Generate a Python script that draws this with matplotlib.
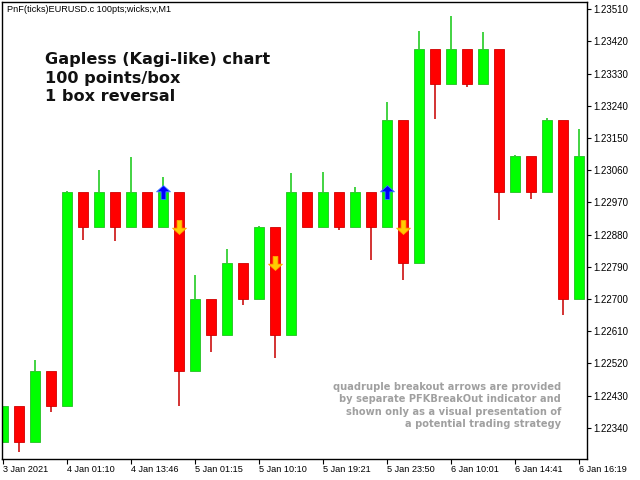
import matplotlib
matplotlib.use("Agg")
import matplotlib.pyplot as plt
import numpy as np
from matplotlib.path import Path

# ==========================================
# DATA
# ==========================================
first_open = 1.2230
closes = [1.2240, 1.2230, 1.2250, 1.2240, 1.2300, 1.2290, 1.2300, 1.2290,
          1.2300, 1.2290, 1.2300, 1.2250, 1.2270, 1.2260, 1.2280, 1.2270,
          1.2290, 1.2260, 1.2300, 1.2290, 1.2300, 1.2290, 1.2300, 1.2290,
          1.2320, 1.2280, 1.2340, 1.2330, 1.2340, 1.2330, 1.2340, 1.2300,
          1.2310, 1.2300, 1.2320, 1.2270, 1.2310]
# wick end beyond the box close (high for up boxes, low for down boxes)
wick_ends = [1.2240, 1.22272, 1.22529, 1.22384, 1.23003, 1.22865, 1.23060, 1.22862,
             1.23097, 1.2290, 1.23041, 1.22401, 1.22767, 1.22552, 1.22839, 1.22683,
             1.22903, 1.22535, 1.23052, 1.2290, 1.23055, 1.22893, 1.23013, 1.22809,
             1.23250, 1.22753, 1.23449, 1.23203, 1.23490, 1.23292, 1.23446, 1.22920,
             1.23103, 1.22979, 1.23205, 1.22655, 1.23175]

up_arrow_idx = [10, 24]
up_arrow_price = [1.2300, 1.2300]
down_arrow_idx = [11, 17, 25]
down_arrow_price = [1.2290, 1.2280, 1.2290]

xtick_idx = [0, 4, 8, 12, 16, 20, 24, 28, 32, 36]
xtick_labels = ["3 Jan 2021", "4 Jan 01:10", "4 Jan 13:46", "5 Jan 01:15",
                "5 Jan 10:10", "5 Jan 19:21", "5 Jan 23:50", "6 Jan 10:01",
                "6 Jan 14:41", "6 Jan 16:19"]
ytick_values = [1.22340 + 0.0009 * k for k in range(14)]

header = "PnF(ticks)EURUSD.c 100pts;wicks;v,M1"
title_lines = "Gapless (Kagi-like) chart\n100 points/box\n1 box reversal"
note = ("quadruple breakout arrows are provided\n"
        "by separate PFKBreakOut indicator and\n"
        "shown only as a visual presentation of\n"
        "a potential trading strategy")

# ==========================================
# FIGURE
# ==========================================
W, H = 640, 480
fig = plt.figure(figsize=(6.4, 4.8), dpi=100)
ax = fig.add_axes([2 / W, 1 - 459 / H, 585 / W, 457 / H])

opens = [first_open] + closes[:-1]
x = np.arange(len(closes))
is_up = np.array(closes) > np.array(opens)

body_col = np.where(is_up, "#00ff00", "#ff0000")
edge_col = np.where(is_up, "#22c022", "#d00000")
wick_col = np.where(is_up, "#22cc22", "#cc1111")

ax.vlines(x, closes, wick_ends, colors=wick_col, linewidth=1.2, zorder=1)
ax.bar(x, np.array(closes) - np.array(opens), bottom=opens, width=0.66,
       color=body_col, edgecolor=edge_col, linewidth=0.6, zorder=2)

# breakout arrows
up_verts = [(-0.5, 0.05), (0.0, 0.5), (0.5, 0.05), (0.17, 0.05), (0.17, -0.5),
            (-0.17, -0.5), (-0.17, 0.05), (-0.5, 0.05)]
up_marker = Path(up_verts, closed=True)
down_marker = Path([(vx, -vy) for vx, vy in up_verts], closed=True)
ax.plot(up_arrow_idx, up_arrow_price, linestyle="none", marker=up_marker,
        markersize=10, color="#0000ff", markeredgecolor="#3a7dff",
        markeredgewidth=0.6, zorder=3)
ax.plot(down_arrow_idx, down_arrow_price, linestyle="none", marker=down_marker,
        markersize=10, color="#ffcc00", markeredgecolor="#ffaa00",
        markeredgewidth=0.6, zorder=3)

ax.set_xlim(-0.0625, 36.5)
ax.set_ylim(1.22253, 1.23530)

# axes styling (MT5 look)
for s in ax.spines.values():
    s.set_color("black")
    s.set_linewidth(1.0)
ax.yaxis.tick_right()
ax.set_yticks(ytick_values)
ax.set_yticklabels([f"{v:.5f}" for v in ytick_values], fontsize=7,
                   family="Liberation Sans")
ax.tick_params(axis="y", direction="out", length=3, width=0.8, pad=1.5)
ax.set_xticks(xtick_idx)
ax.set_xticklabels(xtick_labels, fontsize=6.6, family="Liberation Sans", ha="left")
ax.tick_params(axis="x", direction="out", length=3.6, width=0.8, pad=1)

# texts
fig.text(7 / W, 1 - 10 / H, header, fontsize=6.6, family="Liberation Sans",
         va="center", ha="left")
fig.text(45 / W, 1 - 52 / H, title_lines, fontsize=11.6, weight="bold",
         family="DejaVu Sans", color="#111111", va="top", ha="left",
         linespacing=1.3)
fig.text(561 / W, 1 - 382 / H, note, fontsize=7.1, weight="bold",
         family="DejaVu Sans", color="#a0a0a0", va="top", ha="right",
         linespacing=1.3)

plt.savefig("out.png", dpi=100)
